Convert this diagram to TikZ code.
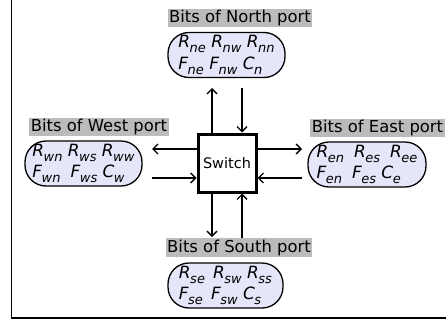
\documentclass[tikz,border=0pt]{standalone}
\usepackage{fontspec}
\setmainfont{DejaVu Sans}
\usetikzlibrary{arrows.meta}
\definecolor{lav}{HTML}{E6E6FA}
\definecolor{lblgray}{HTML}{BBBBBB}
\newcommand\mv[2]{\textit{#1\kern-0.5pt\raisebox{-0.28em}{\fontsize{13}{13}\selectfont #2}}}
\tikzset{
  portlabel/.style={fill=lblgray, inner sep=1.5pt, font=\fontsize{16.4}{18}\selectfont},
  bitbox/.style={draw, line width=1.3pt, fill=lav, rounded corners=21pt, minimum height=45pt, align=left, inner sep=2pt, font=\fontsize{16.9}{21.5}\selectfont},
  swbox/.style={draw, line width=3pt, minimum size=58pt, font=\fontsize{14.5}{16}\selectfont},
  link/.style={line width=1.3pt, -{Straight Barb[length=5pt,width=10pt]}},
  frameline/.style={line width=1.6pt}
}
\begin{document}
\begin{tikzpicture}[x=1pt,y=-1pt]
\useasboundingbox (0,0) rectangle (446,324);
\draw[frameline] (11.5,0) -- (11.5,318) -- (446,318);

\node[swbox] (sw) at (227,163) {Switch};

\node[portlabel] (nl) at (240,18) {Bits of North port};
\node[bitbox, minimum width=117pt] (nb) at (226.5,55) {\mv{R}{ne} \mv{R}{nw} \mv{R}{nn}\\ \mv{F}{ne} \mv{F}{nw} \mv{C}{n}};

\node[portlabel] (sl) at (239,247.5) {Bits of South port};
\node[bitbox, minimum width=115pt] (sb) at (225.5,285.5) {\mv{R}{se}\, \mv{R}{sw} \mv{R}{ss}\\ \mv{F}{se}\, \mv{F}{sw} \mv{C}{s}};

\node[portlabel] (wl) at (99,127) {Bits of West port};
\node[bitbox, minimum width=117pt] (wb) at (83.5,163.5) {\mv{R}{wn} \mv{R}{ws} \mv{R}{ww}\\ \mv{F}{wn}\; \mv{F}{ws} \mv{C}{w}};

\node[portlabel] (el) at (377.5,128) {Bits of East port};
\node[bitbox, minimum width=118pt] (eb) at (367,164.5) {\mv{R}{en}\; \mv{R}{es}\; \mv{R}{ee}\\ \mv{F}{en}\; \mv{F}{es} \mv{C}{e}};

% free ends
\coordinate (nA) at (212,88);
\coordinate (nB) at (242,88);
\coordinate (sA) at (212,237);
\coordinate (sB) at (242,238);
\coordinate (wA) at (152,149);
\coordinate (wB) at (152,178);
\coordinate (eA) at (302,149);
\coordinate (eB) at (302,178);

\draw[link] (sw.north -| nA) -- (nA);
\draw[link] (nB) -- (sw.north -| nB);
\draw[link] (sw.south -| sA) -- (sA);
\draw[link] (sB) -- (sw.south -| sB);
\draw[link] (sw.west |- wA) -- (wA);
\draw[link] (wB) -- (sw.west |- wB);
\draw[link] (sw.east |- eA) -- (eA);
\draw[link] (eB) -- (sw.east |- eB);
\end{tikzpicture}
\end{document}
